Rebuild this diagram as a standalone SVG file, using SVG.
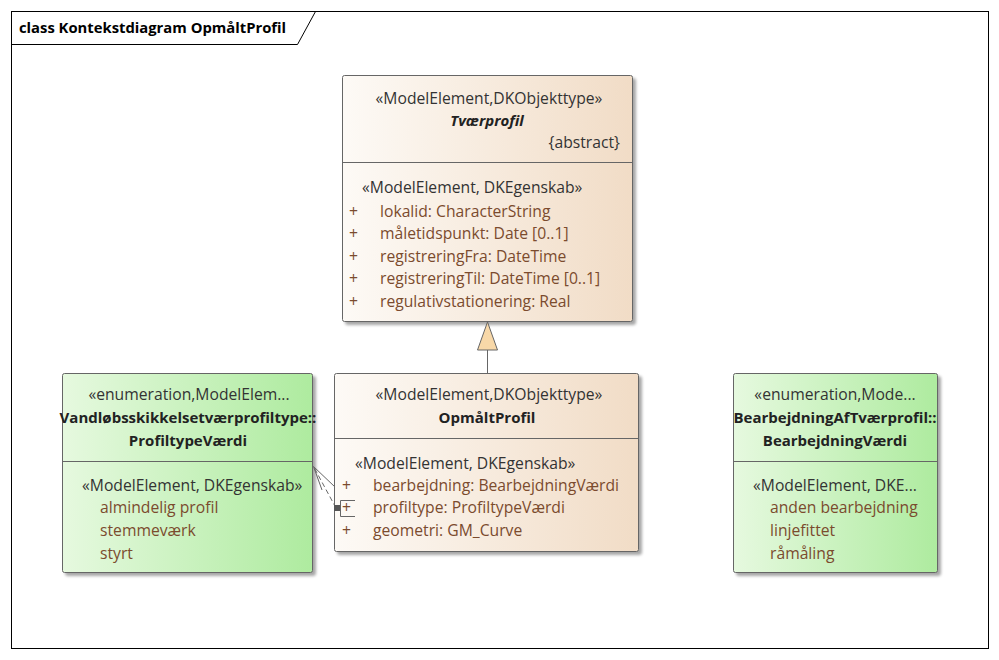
<svg xmlns="http://www.w3.org/2000/svg" width="999" height="660" viewBox="0 0 999 660">
<defs>
<linearGradient id="gOrange" x1="0" y1="0" x2="1" y2="0">
<stop offset="0" stop-color="#fdfaf6"/>
<stop offset="1" stop-color="#f1dcc6"/>
</linearGradient>
<linearGradient id="gGreen" x1="0" y1="0" x2="1" y2="0">
<stop offset="0" stop-color="#e6f9df"/>
<stop offset="1" stop-color="#aeeb9f"/>
</linearGradient>
<filter id="sh" x="-5%" y="-5%" width="115%" height="115%">
<feGaussianBlur in="SourceAlpha" stdDeviation="1.5"/>
<feOffset dx="3" dy="3"/>
<feComponentTransfer><feFuncA type="linear" slope="0.35"/></feComponentTransfer>
<feMerge><feMergeNode/><feMergeNode in="SourceGraphic"/></feMerge>
</filter>
</defs>
<style>
text{font-family:"Open Sans","Liberation Sans",Arial,sans-serif;font-size:15.7px;fill:#333}
.st{fill:#333}
.nm{font-weight:bold;fill:#222;font-size:15px}
.at{fill:#7b4b2e}
.c{text-anchor:middle}
.box{stroke:#666;stroke-width:1}
.div{stroke:#666;stroke-width:1}
.title{font-weight:bold;font-size:14.8px;fill:#000}
</style>
<rect x="0" y="0" width="999" height="660" fill="#fff"/>
<g id="frame">
<rect x="11.5" y="11.5" width="977" height="637" fill="none" stroke="#000"/>
<path d="M11.5 44.5 H297.5 L315.5 11.5" fill="none" stroke="#000"/>
<text class="title" x="19" y="33">class Kontekstdiagram OpmåltProfil</text>
</g>
<g id="Tvaerprofil">
<rect class="box" x="342.5" y="75.5" width="290" height="246" rx="2" fill="url(#gOrange)" filter="url(#sh)"/>
<line class="div" x1="342.5" y1="162.5" x2="632.5" y2="162.5"/>
<text class="st c" x="489" y="104">«ModelElement,DKObjekttype»</text>
<text class="nm c" x="487" y="126" font-style="italic">Tværprofil</text>
<text class="st" x="620" y="148" text-anchor="end">{abstract}</text>
<text class="st" x="362" y="193">«ModelElement, DKEgenskab»</text>
<text class="at" x="349" y="217">+</text><text class="at" x="380" y="217">lokalid: CharacterString</text>
<text class="at" x="349" y="239">+</text><text class="at" x="380" y="239">måletidspunkt: Date [0..1]</text>
<text class="at" x="349" y="262">+</text><text class="at" x="380" y="262">registreringFra: DateTime</text>
<text class="at" x="349" y="284">+</text><text class="at" x="380" y="284">registreringTil: DateTime [0..1]</text>
<text class="at" x="349" y="307">+</text><text class="at" x="380" y="307">regulativstationering: Real</text>
</g>
<g id="OpmaaltProfil">
<rect class="box" x="334.5" y="373.5" width="304" height="178" rx="2" fill="url(#gOrange)" filter="url(#sh)"/>
<line class="div" x1="334.5" y1="438.5" x2="638.5" y2="438.5"/>
<text class="st c" x="489" y="400">«ModelElement,DKObjekttype»</text>
<text class="nm c" x="487" y="423">OpmåltProfil</text>
<text class="st" x="355" y="469">«ModelElement, DKEgenskab»</text>
<text class="at" x="342" y="491">+</text><text class="at" x="373" y="491">bearbejdning: BearbejdningVærdi</text>
<text class="at" x="342" y="513">+</text><text class="at" x="373" y="513">profiltype: ProfiltypeVærdi</text>
<text class="at" x="342" y="536">+</text><text class="at" x="373" y="536">geometri: GM_Curve</text>
</g>
<g id="ProfiltypeVaerdi">
<rect class="box" x="62.5" y="373.5" width="250" height="199" rx="2" fill="url(#gGreen)" filter="url(#sh)"/>
<line class="div" x1="62.5" y1="461.5" x2="312.5" y2="461.5"/>
<text class="st c" x="189" y="400">«enumeration,ModelElem...</text>
<text class="nm c" x="188" y="423">Vandløbsskikkelsetværprofiltype::</text>
<text class="nm c" x="188" y="446">ProfiltypeVærdi</text>
<text class="st" x="82" y="491">«ModelElement, DKEgenskab»</text>
<text class="at" x="100" y="513">almindelig profil</text>
<text class="at" x="100" y="536">stemmeværk</text>
<text class="at" x="100" y="559">styrt</text>
</g>
<g id="BearbejdningVaerdi">
<rect class="box" x="733.5" y="373.5" width="204" height="199" rx="2" fill="url(#gGreen)" filter="url(#sh)"/>
<line class="div" x1="733.5" y1="461.5" x2="937.5" y2="461.5"/>
<text class="st c" x="835" y="400">«enumeration,Mode...</text>
<text class="nm c" x="835" y="423">BearbejdningAfTværprofil::</text>
<text class="nm c" x="835" y="446">BearbejdningVærdi</text>
<text class="st" x="753" y="491">«ModelElement, DKE...</text>
<text class="at" x="770" y="513">anden bearbejdning</text>
<text class="at" x="770" y="536">linjefittet</text>
<text class="at" x="770" y="559">råmåling</text>
</g>
<g id="connectors" fill="none" stroke="#666">
<path d="M487.5 350 V373"/>
<path d="M487.5 322 L497.5 350 H477.5 Z" fill="#f8d8a8"/>
<path d="M336 508 L313.5 466.5" stroke-dasharray="5,3"/>
<path d="M335 487 L313.5 466.5 L322 490"/>
<rect x="334" y="505" width="6" height="6" fill="#555" stroke="none"/>
<path d="M355 500.5 H340.5 V516.5 H355"/>
</g>
</svg>
